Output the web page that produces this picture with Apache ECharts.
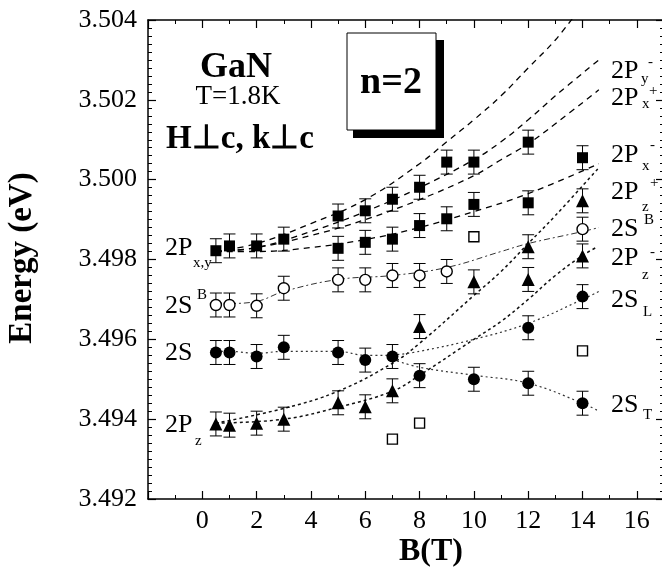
<!DOCTYPE html>
<html><head><meta charset="utf-8">
<script src="https://cdn.jsdelivr.net/npm/echarts@6/dist/echarts.min.js"></script>
<style>html,body{margin:0;padding:0;background:#fff}#c{width:662px;height:575px}</style>
</head><body><div id="c"></div>
<script>
// ---- measured data (B in T, E in eV) ----
const sqB   = [0.5,1,2,3,5,5,6,6,7,7,8,8,9,9,10,10,12,12,14];
const sqE   = [3.49822,3.49834,3.49834,3.49851,3.49909,3.49828,3.49922,3.49843,3.49951,3.49851,3.49981,3.49885,3.50044,3.49902,3.50044,3.49938,3.50094,3.49942,3.50055];
const sqErr = [0.0003,0.0003,0.0003,0.0003,0.0003,0.0003,0.0003,0.0003,0.0003,0.0003,0.0003,0.0003,0.0003,0.0003,0.0003,0.0003,0.0003,0.0003,0.0003];

const osqB  = [7,8,10,14];
const osqE  = [3.4935,3.4939,3.49857,3.49571];

const ocB   = [0.5,1,2,3,5,6,7,8,9,14];
const ocE   = [3.49686,3.49686,3.49684,3.49728,3.49749,3.49749,3.4976,3.4976,3.4977,3.49876];
const ocErr = [0.0003,0.0003,0.0003,0.0003,0.0003,0.0003,0.0003,0.0003,0.0003,0.0003];

const fcB   = [0.5,1,2,3,5,6,7,8,10,12,12,14,14];
const fcE   = [3.49567,3.49567,3.49557,3.4958,3.49567,3.49548,3.49557,3.49509,3.4950,3.49629,3.4949,3.49707,3.4944];
const fcErr = [0.0003,0.0003,0.0003,0.0003,0.0003,0.0003,0.0003,0.0003,0.0003,0.0003,0.0003,0.0003,0.0003];

const trB   = [0.5,1,2,3,5,6,7,8,10,12,12,14,14];
const trE   = [3.49388,3.49385,3.4939,3.4940,3.49441,3.49431,3.49471,3.49632,3.49744,3.4975,3.49832,3.49809,3.49947];
const trErr = [0.0003,0.0003,0.0003,0.0003,0.0003,0.0003,0.0003,0.0003,0.0003,0.0003,0.0003,0.0003,0.0003];

// ---- guide curves ----
const c1B = [0.5,2,4,6,8,9,10,11,12,13,13.8];
const c1E = [3.4982,3.4984,3.4989,3.4995,3.5004,3.50095,3.5015,3.5021,3.5028,3.5035,3.5042];
const c2B = [0.5,2,4,6,8,10,11,12,13,14.6];
const c2E = [3.4982,3.4983,3.4987,3.4992,3.4998,3.5005,3.50095,3.5015,3.5021,3.5030];
const c3B = [0.5,2,4,6,8,10,11,12,13,14.6];
const c3E = [3.4982,3.4983,3.4986,3.4990,3.4995,3.5001,3.5005,3.5009,3.5014,3.50225];
const c4B = [0.5,2,4,6,8,10,12,14.6];
const c4E = [3.4982,3.4982,3.4983,3.4985,3.4988,3.4992,3.49965,3.5004];
const t1B = [0.5,3,5,7,8,10,11,12,13,14.6];
const t1E = [3.4939,3.49427,3.4947,3.4954,3.4959,3.4971,3.4977,3.4984,3.4991,3.5003];
const t2B = [0.5,3,5,7,8,10,11,12,13,14,14.5];
const t2E = [3.4939,3.4940,3.4943,3.4947,3.4951,3.4960,3.49645,3.4970,3.4976,3.4981,3.4983];
const sbB = [0.5,1,2,3,5,7,9,11,12,14,14.6];
const sbE = [3.4969,3.4969,3.49695,3.4972,3.4975,3.4976,3.4978,3.4982,3.4984,3.4987,3.4988];
const s0B = [0.5,1,2,3,5,6,7];
const s0E = [3.4957,3.4957,3.49565,3.4957,3.4957,3.4956,3.4956];
const sLB = [7,8,10,12,14,14.6];
const sLE = [3.4956,3.4957,3.4960,3.4964,3.4970,3.4972];
const sTB = [7,8,10,12,14,14.6];
const sTE = [3.4955,3.4953,3.4951,3.4949,3.4944,3.4942];

const FONT = '"Liberation Serif","Times New Roman",serif';
const zip = (a,b) => a.map((v,i)=>[v,b[i]]);

function curve(B,E,type,width,color){
  return {type:'line', data:zip(B,E), smooth:0.4, showSymbol:false, symbol:'none', clip:true, z:1, silent:true,
    lineStyle:{type:type, width:width, color:color}};
}
function scatter(B,E,symbol,size,fill,bw){
  return {type:'scatter', data:zip(B,E), symbol:symbol, symbolSize:size, z:4, silent:true,
    itemStyle:{color:fill, borderColor:'#000', borderWidth:bw, opacity:1}};
}
function errbars(B,E,err){
  return {type:'custom', z:3, silent:true, clip:true,
    data:B.map((b,i)=>[b,E[i],err[i]]), encode:{x:0,y:1},
    renderItem:function(params,api){
      const x=api.value(0), y=api.value(1), e=api.value(2);
      const t=api.coord([x,y+e]), b=api.coord([x,y-e]);
      const hw=6, st={stroke:'#000', lineWidth:1};
      return {type:'group', children:[
        {type:'line', shape:{x1:t[0],y1:t[1],x2:b[0],y2:b[1]}, style:st},
        {type:'line', shape:{x1:t[0]-hw,y1:t[1],x2:t[0]+hw,y2:t[1]}, style:st},
        {type:'line', shape:{x1:b[0]-hw,y1:b[1],x2:b[0]+hw,y2:b[1]}, style:st}
      ]};
    }};
}

function txt(x,y,text,size,bold,align){
  return {type:'text', x:x, y:y, z:10, silent:true,
    style:{text:text, fill:'#000', font:(bold?'bold ':'')+size+'px '+FONT,
      align:align||'left', textAlign:align||'left', verticalAlign:'middle', textVerticalAlign:'middle'}};
}
function lab(x,y,main,sub,subX,subY,sup,supX,supY){
  const out=[txt(x,y,main,26,false)];
  if(sub) out.push(txt(subX,subY,sub,15,false));
  if(sup) out.push(txt(supX,supY,sup,15,false));
  return out;
}

const axisCommon = {
  type:'value',
  axisLine:{show:true, onZero:false, lineStyle:{color:'#000', width:1.5}},
  axisTick:{show:true, inside:true, length:8, lineStyle:{color:'#000', width:1.2}},
  minorTick:{show:true, length:4, lineStyle:{color:'#000', width:1}},
  splitLine:{show:false}, minorSplitLine:{show:false}
};

const graphics = [].concat(
  [
    {type:'rect', z:9, shape:{x:353,y:40,width:91,height:98}, style:{fill:'#000'}},
    {type:'rect', z:9, shape:{x:347,y:33,width:89,height:97}, style:{fill:'#fff', stroke:'#000', lineWidth:1}},
    txt(391,83,'n=2',38,true,'center'),
    txt(236,68,'GaN',36,true,'center'),
    txt(238,97,'T=1.8K',27,false,'center'),
    txt(240,139,'H\u22a5c, k\u22a5c',33,true,'center'),
    txt(431,552,'B(T)',32,true,'center'),
    {type:'text', x:22, y:258, rotation:Math.PI/2, z:10,
      style:{text:'Energy (eV)', fill:'#000', font:'bold 33px '+FONT, align:'center', textAlign:'center', verticalAlign:'middle', textVerticalAlign:'middle'}}
  ],
  lab(611,71,'2P','y',641,79,'-',648,62),
  lab(611,98,'2P','x',642,104,'+',649,91),
  lab(611,155,'2P','x',642,166,'-',650,145),
  lab(611,192,'2P','z',642,207,'+',650,183),
  lab(611,229,'2S',null,0,0,'B',644,220),
  lab(611,258,'2P','z',642,275,'-',650,252),
  lab(611,300,'2S','L',643,312,null,0,0),
  lab(611,405,'2S','T',643,415,null,0,0),
  lab(165,248,'2P','x,y',193,263,null,0,0),
  lab(165,306,'2S',null,0,0,'B',197,295),
  lab(165,353,'2S',null,0,0,null,0,0),
  lab(165,425,'2P','z',195,441,null,0,0)
);

const chart = echarts.init(document.getElementById('c'), null, {renderer:'canvas'});
chart.setOption({
  animation:false,
  backgroundColor:'#fff',
  grid:{left:148, top:20, width:516, height:479, containLabel:false, outerBoundsMode:'none'},
  xAxis:[
    Object.assign({}, axisCommon, {position:'bottom', min:-2, max:17, interval:2,
      minorTick:Object.assign({}, axisCommon.minorTick, {splitNumber:2}),
      axisLabel:{color:'#000', fontFamily:FONT, fontSize:26, margin:9, showMaxLabel:false,
        formatter:v => (v<0||v>16)?'':String(v)}}),
    Object.assign({}, axisCommon, {position:'top', min:-2, max:17, interval:2,
      minorTick:Object.assign({}, axisCommon.minorTick, {splitNumber:2}),
      axisLabel:{show:false}})
  ],
  yAxis:[
    Object.assign({}, axisCommon, {position:'left', min:3.492, max:3.504, interval:0.002,
      minorTick:Object.assign({}, axisCommon.minorTick, {splitNumber:10}),
      axisLabel:{color:'#000', fontFamily:FONT, fontSize:26, margin:11,
        formatter:v => v.toFixed(3)}}),
    Object.assign({}, axisCommon, {position:'right', min:3.492, max:3.504, interval:0.002,
      minorTick:Object.assign({}, axisCommon.minorTick, {splitNumber:10}),
      axisLabel:{show:false}})
  ],
  series:[
    curve(c1B,c1E,[6,5],1.3,'#000'),
    curve(c2B,c2E,[6,5],1.3,'#000'),
    curve(c3B,c3E,[6,5],1.3,'#000'),
    curve(c4B,c4E,[6,5],1.3,'#000'),
    curve(t1B,t1E,[3,3],1.5,'#111'),
    curve(t2B,t2E,[3,3],1.5,'#111'),
    curve(sbB,sbE,[6,3,2,3],1,'#333'),
    curve(s0B,s0E,[2,3],1.2,'#333'),
    curve(sLB,sLE,[2,3],1.2,'#333'),
    curve(sTB,sTE,[2,3],1.2,'#333'),
    errbars(sqB,sqE,sqErr),
    errbars(ocB,ocE,ocErr),
    errbars(fcB,fcE,fcErr),
    errbars(trB,trE,trErr),
    scatter(sqB,sqE,'rect',11,'#000',0),
    scatter(osqB,osqE,'rect',10,'#fff',1.4),
    scatter(ocB,ocE,'circle',11,'#fff',1.4),
    scatter(fcB,fcE,'circle',12,'#000',0),
    scatter(trB,trE,'triangle',13,'#000',0)
  ],
  graphic:graphics
});
</script>
</body></html>
